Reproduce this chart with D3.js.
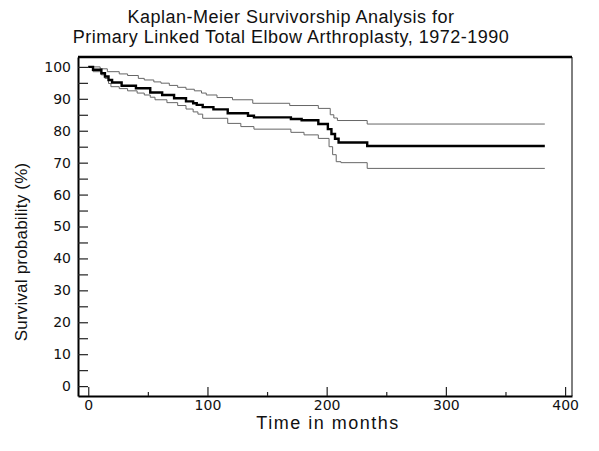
<!DOCTYPE html>
<html>
<head>
<meta charset="utf-8">
<script src="https://cdn.jsdelivr.net/npm/d3@7"></script>
<style>
  body { margin: 0; background: #fff; }
  svg text { font-family: "Liberation Sans", Arial, sans-serif; fill: #111; }
  .tick text { font-family: "DejaVu Sans", sans-serif; font-size: 14px; }
</style>
</head>
<body>
<div id="chart"></div>
<script>
	// Kaplan-Meier curve and its confidence band
	var mainMonths = [0, 4, 11, 14, 17, 20, 28, 40, 52, 62, 72, 82, 88, 91, 96, 105, 117, 134, 139, 170, 179, 193, 201, 204, 207, 210, 234, 383];
	var mainSurvival = [100, 99.1, 98, 97, 95.9, 95.1, 94.1, 93.3, 92, 91.2, 90.2, 89.2, 88.6, 88.1, 87.4, 86.7, 85.5, 84.7, 84.2, 83.7, 83.3, 82.1, 80.5, 79, 77.5, 76.3, 75.2, 75.2];

	var upperMonths = [0, 10, 16, 26, 33, 42, 47, 55, 61, 68, 75, 82, 89, 95, 99, 108, 121, 138, 169, 193, 203, 206, 209, 234, 383];
	var upperSurvival = [100, 99.4, 98.5, 97.8, 97.3, 96.4, 95.9, 95.3, 94.9, 94.2, 93.6, 93.0, 92.5, 91.8, 91.2, 90.4, 89.7, 88.6, 87.9, 87.0, 85.0, 84.0, 83.2, 82.1, 82.1];

	var lowerMonths = [0, 4, 11, 14, 17, 19, 26, 33, 41, 47, 52, 56, 66, 75, 82, 88, 92, 96, 117, 128, 139, 170, 181, 193, 202, 205, 208, 212, 234, 383];
	var lowerSurvival = [100, 98.5, 97.5, 96.4, 94.8, 93.8, 93.2, 92.5, 91.8, 91.2, 90.5, 89.7, 88.8, 87.9, 86.8, 85.9, 85.2, 83.9, 82.3, 81.3, 80.5, 79.5, 78.7, 77.6, 75, 72.5, 70.3, 70, 68.2, 68.2];

	var xMajorTicks = [0, 100, 200, 300, 400];
	var xMinorTicks = [50, 150, 250, 350];
	var yTicks = d3.range(0, 101, 5);

	var titleLines = ['Kaplan-Meier Survivorship Analysis for', 'Primary Linked Total Elbow Arthroplasty, 1972-1990'];

	var W = 599, H = 451,
		margin = { top: 57, right: 27, bottom: 55, left: 78 },
		width = W - margin.left - margin.right,
		height = H - margin.top - margin.bottom;

	var svg = d3.select('#chart').append('svg')
		.attr('width', W)
		.attr('height', H);

	var g = svg.append('g')
		.attr('transform', 'translate(' + margin.left + ',' + margin.top + ')');

	var x = d3.scaleLinear().domain([-8.6, 405.8]).range([0, width]);
	var y = d3.scaleLinear().domain([-3.1, 103.1]).range([height, 0]);

	function pairs(months, values) {
		return months.map(function (m, i) { return { t: m, s: values[i] }; });
	}

	var line = d3.line()
		.x(function (d) { return x(d.t); })
		.y(function (d) { return y(d.s); })
		.curve(d3.curveStepAfter);

	// confidence limits, thin
	[pairs(upperMonths, upperSurvival), pairs(lowerMonths, lowerSurvival)].forEach(function (data) {
		g.append('path')
			.datum(data)
			.attr('fill', 'none')
			.attr('stroke', '#666')
			.attr('stroke-width', 1)
			.attr('d', line);
	});

	g.append('path')
		.datum(pairs(mainMonths, mainSurvival))
		.attr('fill', 'none')
		.attr('stroke', '#000')
		.attr('stroke-width', 2.4)
		.attr('d', line);

	// axes, ticks pointing inward
	g.append('g')
		.call(d3.axisLeft(y).tickValues(yTicks).tickSize(-10).tickSizeOuter(0).tickPadding(7)
			.tickFormat(function (d) { return d % 10 === 0 ? d : ''; }));

	g.append('g')
		.attr('transform', 'translate(0,' + height + ')')
		.call(d3.axisBottom(x).tickValues(xMajorTicks).tickSize(-9).tickSizeOuter(0).tickPadding(4));

	g.append('g')
		.attr('transform', 'translate(0,' + height + ')')
		.call(d3.axisBottom(x).tickValues(xMinorTicks).tickSize(-4).tickSizeOuter(0).tickFormat(''))
		.select('.domain').remove();

	g.selectAll('.domain').attr('stroke-width', 2).attr('stroke', '#000');
	g.selectAll('.tick line').attr('stroke', '#222').attr('stroke-width', 1.2);

	// top and right frame
	g.append('line')
		.attr('x1', 0).attr('x2', width).attr('y1', 0).attr('y2', 0)
		.attr('stroke', '#000').attr('stroke-width', 2.5);
	g.append('line')
		.attr('x1', width).attr('x2', width).attr('y1', 0).attr('y2', height)
		.attr('stroke', '#000').attr('stroke-width', 1);

	// titles
	svg.append('g').selectAll('text')
		.data(titleLines)
		.join('text')
		.attr('x', 291)
		.attr('y', function (d, i) { return 23 + i * 20; })
		.attr('text-anchor', 'middle')
		.style('font-size', '18px')
		.style('letter-spacing', '0.5px')
		.text(function (d) { return d; });

	svg.append('text')
		.attr('x', 328)
		.attr('y', 429)
		.attr('text-anchor', 'middle')
		.style('font-size', '18px')
		.style('letter-spacing', '1.5px')
		.text('Time in months');

	svg.append('text')
		.attr('transform', 'translate(27,252) rotate(-90)')
		.attr('text-anchor', 'middle')
		.style('font-size', '17px')
		.style('letter-spacing', '0.2px')
		.text('Survival probability (%)');
</script>
</body>
</html>
